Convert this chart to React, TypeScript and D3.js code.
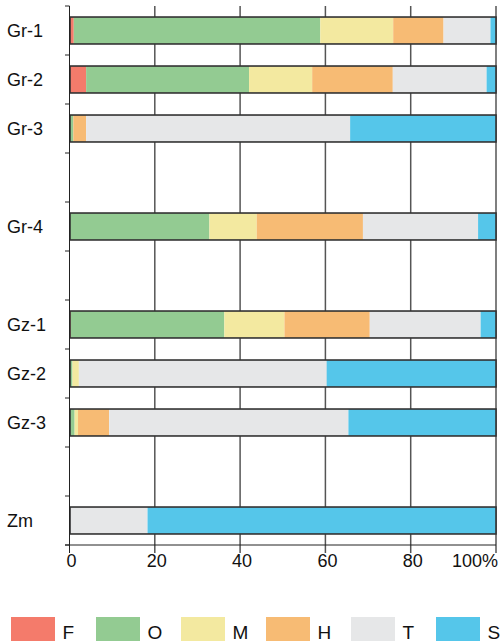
import React from "react";
import * as d3 from "d3";

// row order on the y axis, blanks are spacer rows
const rows = ["Gr-1", "Gr-2", "Gr-3", "", "Gr-4", "", "Gz-1", "Gz-2", "Gz-3", "", "Zm"];
const groups = ["Gr-1", "Gr-2", "Gr-3", "Gr-4", "Gz-1", "Gz-2", "Gz-3", "Zm"];

const keys = ["F", "O", "M", "H", "T", "S"];
const F = [1.0, 3.9, 0, 0, 0.3, 0, 0, 0];
const O = [57.8, 38.2, 0.9, 32.8, 36.0, 0.7, 1.2, 0];
const M = [17.1, 14.8, 0, 11.1, 14.1, 1.5, 0.8, 0];
const H = [11.8, 18.9, 3.0, 24.9, 20.0, 0, 7.3, 0];
const T = [11.0, 22.0, 61.9, 27.0, 26.0, 58.1, 56.1, 18.3];
const S = [1.3, 2.2, 34.2, 4.2, 3.6, 39.7, 34.6, 81.7];

const xTicks = [0, 20, 40, 60, 80, 100];
const colors = ["#f47b6b", "#93cb92", "#f3e9a0", "#f7bb74", "#e6e7e8", "#55c6ea"];

const width = 501;
const height = 643;

export default function App() {
  const table = groups.map((g, i) => ({
    group: g, F: F[i], O: O[i], M: M[i], H: H[i], T: T[i], S: S[i],
  }));
  const series = d3.stack<any>().keys(keys)(table);

  const x = d3.scaleLinear().domain([0, 100]).range([69.5, 496]);
  const rowIds = rows.map((r, i) => r || "gap" + i);
  const y = d3.scaleBand().domain(rowIds).range([6, 545]).paddingInner(0.45).paddingOuter(0.225);
  const rowOf = (g: string) => rowIds[rows.indexOf(g)];
  const color = d3.scaleOrdinal<string>().domain(keys).range(colors);
  const step = y.step();
  const font = "Arial, 'Liberation Sans', Helvetica, sans-serif";

  return (
    <svg width={width} height={height} style={{ position: "absolute", left: 0, top: 0 }} fontFamily={font}>
      {/* vertical grid */}
      {xTicks.slice(1).map((t) => (
        <line key={"g" + t} x1={x(t)} x2={x(t)} y1={6} y2={553} stroke="#555" strokeWidth={1.5} />
      ))}
      {/* bars */}
      {series.map((s) => (
        <g key={s.key} fill={color(s.key)}>
          {s.map((d, i) => (
            <rect key={i} x={x(d[0])} width={Math.max(0, x(d[1]) - x(d[0]))}
              y={y(rowOf(groups[i]))} height={y.bandwidth()} />
          ))}
        </g>
      ))}
      {groups.map((g) => (
        <rect key={"o" + g} x={x(0) + 0.5} width={x(100) - x(0) - 0.5} y={y(rowOf(g))}
          height={y.bandwidth()} fill="none" stroke="#333" strokeWidth={1.6} />
      ))}
      {/* y axis */}
      <line x1={x(0)} x2={x(0)} y1={6} y2={553} stroke="#222" strokeWidth={1} />
      {d3.range(rows.length + 1).map((i) => (
        <line key={"yt" + i} x1={65} x2={x(0)} y1={6 + i * step} y2={6 + i * step} stroke="#222" strokeWidth={1} />
      ))}
      {rows.map((r, i) => r ? (
        <text key={"yl" + i} x={7} y={(y(rowIds[i]) as number) + y.bandwidth() / 2} dy="0.36em"
          fontSize={18} fill="#111">{r}</text>
      ) : null)}
      {/* x axis */}
      <line x1={65} x2={x(100)} y1={545} y2={545} stroke="#222" strokeWidth={1} />
      {xTicks.map((t) => (
        <text key={"xl" + t} x={t === 100 ? 498 : x(t) + 2} y={567} textAnchor={t === 100 ? "end" : "middle"}
          fontSize={18} fill="#111">{t === 100 ? "100%" : t}</text>
      ))}
      {/* legend */}
      {keys.map((k, i) => (
        <g key={"lg" + k} transform={`translate(${11 + i * 85},617)`}>
          <rect width={44} height={24} fill={color(k)} />
          <text x={51.5} y={21.5} fontSize={19} fill="#111">{k}</text>
        </g>
      ))}
    </svg>
  );
}
